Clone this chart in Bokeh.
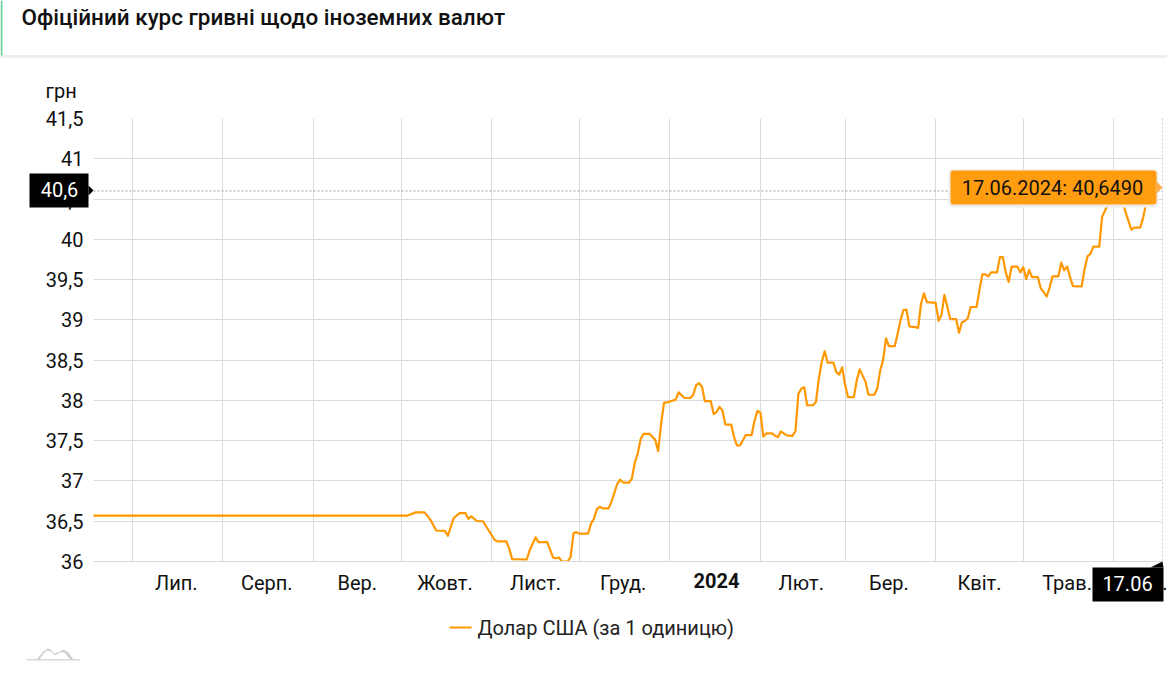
import pandas as pd
from bokeh.core.properties import value
from bokeh.embed import file_html
from bokeh.models import FixedTicker, Span
from bokeh.plotting import figure
from bokeh.resources import INLINE

title_text = "Офіційний курс гривні щодо іноземних валют"
series_name = "Долар США (за 1 одиницю)"
unit_text = "грн"

y_ticks = [36, 36.5, 37, 37.5, 38, 38.5, 39, 39.5, 40, 40.5, 41, 41.5]
y_tick_labels = ["36", "36,5", "37", "37,5", "38", "38,5", "39", "39,5", "40", "40,5", "41", "41,5"]

month_starts = ["2023-07-01", "2023-08-01", "2023-09-01", "2023-10-01", "2023-11-01", "2023-12-01",
                "2024-01-01", "2024-02-01", "2024-03-01", "2024-04-01", "2024-05-01", "2024-06-01"]
month_label_dates = ["2023-07-16", "2023-08-16", "2023-09-16", "2023-10-16", "2023-11-16", "2023-12-16",
                     "2024-02-15", "2024-03-16", "2024-04-16", "2024-05-16", "2024-06-16"]
month_labels = ["Лип.", "Серп.", "Вер.", "Жовт.", "Лист.", "Груд.", "Лют.", "Бер.", "Квіт.", "Трав.", "Черв."]
year_label = "2024"

dates = [
    "2023-06-17", "2023-09-30", "2023-10-03", "2023-10-06", "2023-10-09", "2023-10-11", "2023-10-13", "2023-10-16",
    "2023-10-17", "2023-10-19", "2023-10-21", "2023-10-23", "2023-10-24", "2023-10-25", "2023-10-27", "2023-10-29",
    "2023-10-31", "2023-11-02", "2023-11-03", "2023-11-06", "2023-11-07", "2023-11-08", "2023-11-13", "2023-11-14",
    "2023-11-16", "2023-11-17", "2023-11-20", "2023-11-22", "2023-11-23", "2023-11-24", "2023-11-25", "2023-11-27",
    "2023-11-28", "2023-11-29", "2023-11-30", "2023-12-01", "2023-12-04", "2023-12-05", "2023-12-06", "2023-12-07",
    "2023-12-08", "2023-12-09", "2023-12-11", "2023-12-12", "2023-12-14", "2023-12-15", "2023-12-16", "2023-12-18",
    "2023-12-19", "2023-12-20", "2023-12-21", "2023-12-22", "2023-12-23", "2023-12-25", "2023-12-27", "2023-12-28",
    "2023-12-29", "2023-12-30", "2023-12-31", "2024-01-03", "2024-01-04", "2024-01-06", "2024-01-08", "2024-01-09",
    "2024-01-10", "2024-01-11", "2024-01-12", "2024-01-13", "2024-01-15", "2024-01-16", "2024-01-17", "2024-01-18",
    "2024-01-19", "2024-01-20", "2024-01-22", "2024-01-23", "2024-01-24", "2024-01-25", "2024-01-27", "2024-01-29",
    "2024-01-30", "2024-01-31", "2024-02-01", "2024-02-02", "2024-02-03", "2024-02-05", "2024-02-06", "2024-02-07",
    "2024-02-08", "2024-02-10", "2024-02-12", "2024-02-13", "2024-02-14", "2024-02-15", "2024-02-16", "2024-02-17",
    "2024-02-19", "2024-02-20", "2024-02-21", "2024-02-22", "2024-02-23", "2024-02-24", "2024-02-26", "2024-02-27",
    "2024-02-28", "2024-02-29", "2024-03-01", "2024-03-02", "2024-03-04", "2024-03-05", "2024-03-06", "2024-03-08",
    "2024-03-09", "2024-03-11", "2024-03-12", "2024-03-13", "2024-03-14", "2024-03-15", "2024-03-16", "2024-03-18",
    "2024-03-19", "2024-03-20", "2024-03-21", "2024-03-22", "2024-03-23", "2024-03-25", "2024-03-26", "2024-03-27",
    "2024-03-28", "2024-03-29", "2024-04-01", "2024-04-02", "2024-04-03", "2024-04-04", "2024-04-05", "2024-04-06",
    "2024-04-08", "2024-04-09", "2024-04-10", "2024-04-11", "2024-04-12", "2024-04-13", "2024-04-15", "2024-04-16",
    "2024-04-17", "2024-04-18", "2024-04-19", "2024-04-20", "2024-04-22", "2024-04-23", "2024-04-24", "2024-04-25",
    "2024-04-26", "2024-04-27", "2024-04-29", "2024-04-30", "2024-05-01", "2024-05-02", "2024-05-03", "2024-05-04",
    "2024-05-06", "2024-05-07", "2024-05-08", "2024-05-09", "2024-05-10", "2024-05-11", "2024-05-13", "2024-05-14",
    "2024-05-15", "2024-05-16", "2024-05-17", "2024-05-18", "2024-05-21", "2024-05-22", "2024-05-23", "2024-05-24",
    "2024-05-25", "2024-05-27", "2024-05-28", "2024-05-30", "2024-05-31", "2024-06-04", "2024-06-05", "2024-06-07",
    "2024-06-08", "2024-06-10", "2024-06-11", "2024-06-12", "2024-06-14", "2024-06-17",
]
rates = [
    36.5686, 36.5686, 36.5686, 36.61, 36.61, 36.52, 36.385, 36.38,
    36.32, 36.54, 36.60, 36.60, 36.53, 36.56, 36.50, 36.50,
    36.385, 36.27, 36.25, 36.25, 36.16, 36.03, 36.025, 36.14,
    36.30, 36.24, 36.24, 36.05, 36.04, 36.05, 36.0, 36.0,
    36.05, 36.35, 36.365, 36.345, 36.345, 36.47, 36.53, 36.65,
    36.68, 36.66, 36.66, 36.74, 36.965, 37.015, 36.98, 36.98,
    37.03, 37.23, 37.34, 37.52, 37.585, 37.585, 37.51, 37.37,
    37.71, 37.97, 37.975, 38.01, 38.10, 38.03, 38.03, 38.07,
    38.19, 38.215, 38.17, 37.99, 37.99, 37.83, 37.855, 37.92,
    37.875, 37.70, 37.70, 37.54, 37.44, 37.44, 37.57, 37.57,
    37.75, 37.87, 37.85, 37.55, 37.59, 37.59, 37.56, 37.545,
    37.615, 37.565, 37.56, 37.62, 38.08, 38.145, 38.165, 37.94,
    37.94, 37.98, 38.27, 38.48, 38.61, 38.47, 38.47, 38.35,
    38.32, 38.41, 38.19, 38.04, 38.04, 38.25, 38.385, 38.23,
    38.07, 38.07, 38.145, 38.37, 38.50, 38.77, 38.675, 38.675,
    38.83, 39.0, 39.125, 39.125, 38.92, 38.91, 38.90, 39.2,
    39.33, 39.22, 39.21, 38.99, 39.06, 39.31, 39.16, 39.01,
    39.01, 38.84, 38.97, 38.985, 39.02, 39.16, 39.16, 39.37,
    39.565, 39.565, 39.54, 39.59, 39.59, 39.78, 39.78, 39.59,
    39.47, 39.66, 39.66, 39.59, 39.655, 39.505, 39.62, 39.53,
    39.53, 39.39, 39.345, 39.29, 39.40, 39.54, 39.54, 39.71,
    39.615, 39.665, 39.53, 39.42, 39.415, 39.635, 39.79, 39.82,
    39.91, 39.91, 40.28, 40.435, 40.485, 40.485, 40.34, 40.12,
    40.145, 40.145, 40.26, 40.44, 40.57, 40.649,
]

crosshair_value = 40.6
crosshair_text = "40,6"
crosshair_date_text = "17.06"
tooltip_text = "17.06.2024: 40,6490"

W, H = 1167, 677
FONT = "Roboto"
LINE = "#ff9800"


def ms(s):
    return int(pd.Timestamp(s).value // 1_000_000)


x_start, x_end = ms("2023-06-17 16:00"), ms("2024-06-17 16:00")
p = figure(width=W, height=H, output_backend="svg", toolbar_location=None,
           x_axis_type="datetime", x_range=(x_start, x_end), y_range=(36, 41.5),
           min_border_left=93, min_border_right=5, min_border_top=118, min_border_bottom=116,
           outline_line_color=None, background_fill_color="white", border_fill_color="white")

line = p.line(pd.to_datetime(dates), rates, line_color=LINE, line_width=2.2, line_join="round")

# axes
p.yaxis.ticker = FixedTicker(ticks=y_ticks)
p.yaxis.major_label_overrides = dict(zip(y_ticks, y_tick_labels))
p.yaxis.axis_line_color = None
p.yaxis.major_tick_line_color = None
p.yaxis.minor_tick_line_color = None
p.yaxis.major_tick_out = 0
p.yaxis.major_label_standoff = 10
p.yaxis.major_label_text_font = FONT
p.yaxis.major_label_text_font_size = "20px"
p.yaxis.major_label_text_color = "#111111"

x_tick_ms = [ms(d) for d in month_label_dates]
p.xaxis.ticker = FixedTicker(ticks=x_tick_ms)
p.xaxis.major_label_overrides = dict(zip(x_tick_ms, month_labels))
p.xaxis.axis_line_color = "#d8d8d8"
p.xaxis.major_tick_line_color = None
p.xaxis.minor_tick_line_color = None
p.xaxis.major_tick_out = 0
p.xaxis.major_label_standoff = 9
p.xaxis.major_label_text_font = FONT
p.xaxis.major_label_text_font_size = "20px"
p.xaxis.major_label_text_color = "#111111"

p.xgrid.ticker = FixedTicker(ticks=[ms(d) for d in month_starts])
p.ygrid.ticker = FixedTicker(ticks=y_ticks)
p.xgrid.grid_line_color = "#dadada"
p.ygrid.grid_line_color = "#dadada"

# crosshair
p.add_layout(Span(location=crosshair_value, dimension="width", line_color="#999999",
                  line_width=1, line_dash="2 2", level="overlay"))
p.add_layout(Span(location=x_end, dimension="height", line_color="#999999",
                  line_width=1, line_dash="2 2", level="overlay"))

# transparent overlay in page pixels for the page furniture around the chart
o = figure(width=W, height=H, output_backend="svg", toolbar_location=None,
           x_range=(0, W), y_range=(H, 0), x_axis_location=None, y_axis_location=None,
           min_border=0, outline_line_color=None, background_fill_color=None, border_fill_color=None)
o.grid.visible = False
o.styles = {"position": "absolute", "left": "0px", "top": "0px"}


def rect(x0, y0, x1, y1, color, radius=0):
    o.quad(left=[x0], right=[x1], top=[y0], bottom=[y1], fill_color=color, line_color=None,
           border_radius=radius)


def poly(xs, ys, color):
    o.patch(xs, ys, fill_color=color, line_color=None)


def text(x, y, s, color="#111111", size="20px", align="center", style="normal", font=FONT):
    o.text([x], [y], text=[s], text_color=color, text_font=value(font), text_font_size=value(size),
           text_align=align, text_baseline="middle", text_font_style=style)


# header band
rect(0, 55, W, 56, "#dcdcdc")
rect(0, 56, W, 57, "#e9e9e9")
rect(0, 57, W, 58, "#f5f5f5")
rect(0, 0, 2, 55, "#6fd0a4")
text(21, 16, title_text, size="22.4px", align="left", font="Roboto Medium")
text(45, 90, unit_text, align="left")

# bold year label on the month row
text(716, 580, year_label, style="bold")

# y crosshair label
rect(29, 173, 88, 207, "#000000")
poly([88, 93, 88], [185, 190, 195], "#000000")
text(59, 189, crosshair_text, color="#ffffff")

# x crosshair label
rect(1092, 567, 1163, 601, "#000000")
poly([1150, 1162, 1163], [567, 561, 567], "#000000")
text(1127, 583, crosshair_date_text, color="#ffffff")

# tooltip
rect(948, 169, 1158, 207, "#eeeeee", radius=4)
rect(950, 170, 1156, 204, "#ff9c0f", radius=3)
poly([1155, 1162, 1155], [180, 187, 194], "#ffb04a")
text(1052, 187, tooltip_text, color="#111111")

# legend
rect(449, 626, 471, 628, LINE)
text(477, 627, series_name, color="#222222", align="left")

# logo
poly([26, 80, 80, 26], [658.5, 658.5, 660, 660], "#d9d9d9")
poly([36, 43, 47, 50, 54, 59, 63, 68, 73, 70, 64, 59, 55, 50, 47, 43, 39],
     [659, 651, 648, 649, 653, 651, 649, 652, 659, 659, 652, 652, 655, 651, 650, 653, 659], "#d0d0d0")

open("out.html", "w").write(file_html((p, o), INLINE))
